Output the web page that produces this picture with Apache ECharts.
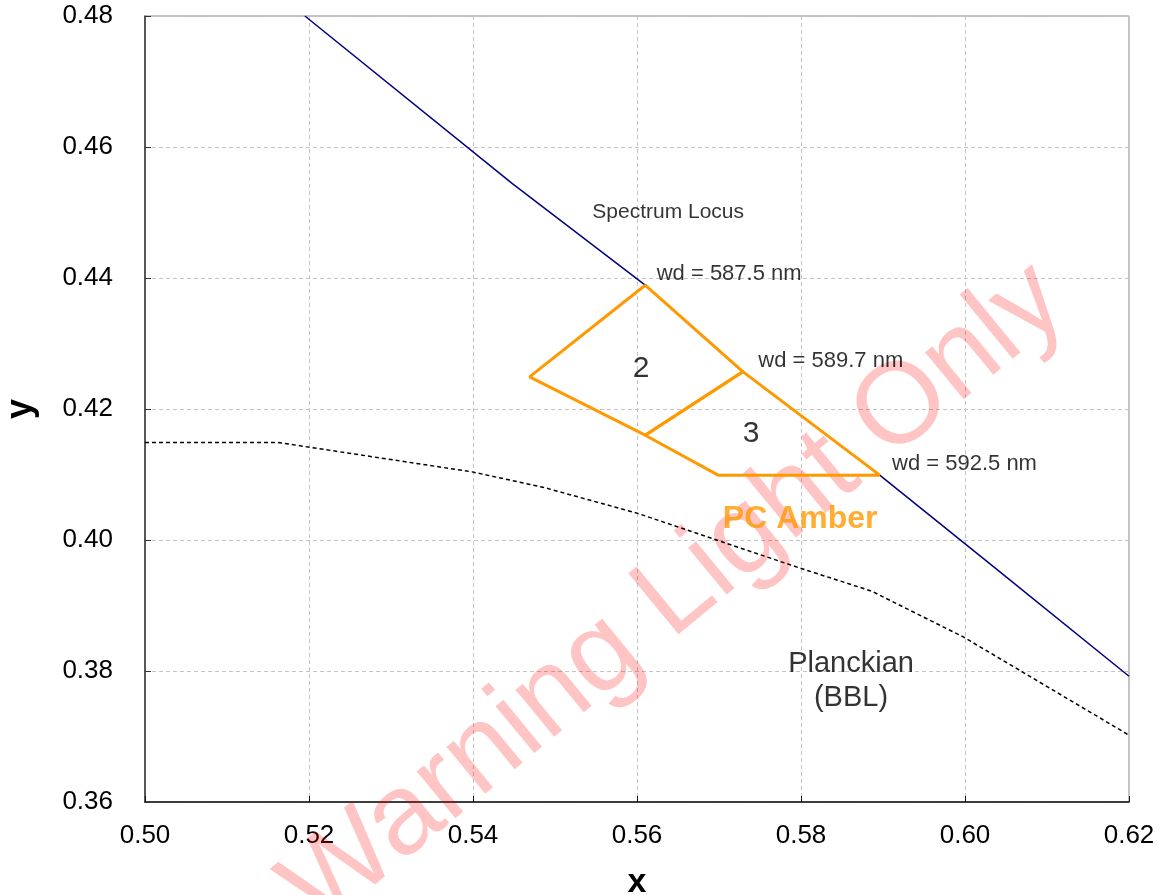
<!DOCTYPE html>
<html>
<head>
<meta charset="utf-8">
<script src="https://cdn.jsdelivr.net/npm/echarts@6/dist/echarts.min.js"></script>
<style>
html,body{margin:0;padding:0;background:#fff;overflow:hidden;}
#chart{width:1163px;height:895px;}
</style>
</head>
<body>
<div id="chart"></div>
<script>
// ---- data ----
const xTicks = [0.50, 0.52, 0.54, 0.56, 0.58, 0.60, 0.62];
const yTicks = [0.36, 0.38, 0.40, 0.42, 0.44, 0.46, 0.48];

const spectrumX = [0.5195, 0.5448, 0.5610, 0.5729, 0.5896, 0.6029, 0.6200];
const spectrumY = [0.4800, 0.4544, 0.4389, 0.4257, 0.4099, 0.3965, 0.3792];

const planckX = [0.500, 0.5162, 0.5399, 0.5487, 0.5600, 0.5690, 0.5799, 0.5886, 0.5998, 0.6200];
const planckY = [0.4149, 0.4149, 0.4104, 0.4080, 0.4041, 0.4003, 0.3957, 0.3922, 0.3852, 0.3702];

const region2X = [0.5610, 0.5469, 0.5610, 0.5729, 0.5610];
const region2Y = [0.4389, 0.4249, 0.4160, 0.4257, 0.4389];

const region3X = [0.5610, 0.5729, 0.5896, 0.5699, 0.5610];
const region3Y = [0.4160, 0.4257, 0.4099, 0.4099, 0.4160];

const smallTexts = ['Spectrum Locus'];
const smallX = [0.5638];
const smallY = [0.4501];

const wdTexts = ['wd = 587.5 nm', 'wd = 589.7 nm', 'wd = 592.5 nm'];
const wdX = [0.5624, 0.5748, 0.5911];
const wdY = [0.4406, 0.4273, 0.4116];

const binTexts = ['2', '3'];
const binX = [0.5605, 0.5739];
const binY = [0.4261, 0.4162];

const amberText = ['PC Amber'];
const amberX = [0.5799];
const amberY = [0.4032];

const bblText = ['Planckian\n(BBL)'];
const bblX = [0.5861];
const bblY = [0.3785];

const watermarkText = 'Warning Light Only';

// ---- helpers ----
const zip = (xs, ys) => xs.map((x, i) => [x, ys[i]]);
const zipNamed = (names, xs, ys) => names.map((n, i) => ({ name: n, value: [xs[i], ys[i]] }));

const FONT = "'Liberation Sans', Arial, sans-serif";
const ORANGE = '#FF9900';

function textSeries(data, opts) {
  return {
    type: 'scatter',
    data: data,
    symbolSize: 0,
    silent: true,
    z: 5,
    label: Object.assign({
      show: true,
      position: [0, 0],
      formatter: p => p.name,
      fontFamily: FONT,
      color: '#000',
      verticalAlign: 'middle'
    }, opts)
  };
}

const chart = echarts.init(document.getElementById('chart'), null, { renderer: 'canvas' });

const option = {
  animation: false,
  backgroundColor: '#fff',
  grid: {
    left: 145, right: 34, top: 16, bottom: 93,
    outerBoundsMode: 'none', containLabel: false,
    show: true, borderColor: '#888', borderWidth: 1
  },
  xAxis: {
    type: 'value',
    min: xTicks[0], max: xTicks[xTicks.length - 1], interval: 0.02,
    name: 'x', nameLocation: 'middle', nameGap: 64,
    nameTextStyle: { fontFamily: FONT, fontWeight: 'bold', fontSize: 34, color: '#000' },
    axisLine: { show: true, lineStyle: { color: '#111', width: 1.5 } },
    axisTick: { show: true, inside: true, length: 6, lineStyle: { color: '#111' } },
    axisLabel: { fontFamily: FONT, fontSize: 26, color: '#000', margin: 21, formatter: v => v.toFixed(2) },
    splitLine: { show: true, lineStyle: { color: '#c4c4c4', type: [4, 3], width: 1 } }
  },
  yAxis: {
    type: 'value',
    min: yTicks[0], max: yTicks[yTicks.length - 1], interval: 0.02,
    name: 'y', nameLocation: 'middle', nameGap: 106, nameRotate: 90,
    nameTextStyle: { fontFamily: FONT, fontWeight: 'bold', fontSize: 36, color: '#000' },
    axisLine: { show: true, lineStyle: { color: '#333', width: 1.5 } },
    axisTick: { show: true, inside: true, length: 6, lineStyle: { color: '#333' } },
    axisLabel: { fontFamily: FONT, fontSize: 26, color: '#000', margin: 32, formatter: v => v.toFixed(2) },
    splitLine: { show: true, lineStyle: { color: '#c4c4c4', type: [4, 3], width: 1 } }
  },
  graphic: [{
    type: 'text',
    x: 675, y: 596,
    rotation: 39.5 * Math.PI / 180,
    z: 1,
    silent: true,
    style: {
      text: watermarkText,
      x: 0, y: 0,
      align: 'center', verticalAlign: 'middle',
      fontFamily: FONT, fontSize: 115,
      fill: 'rgba(255,0,0,0.23)'
    }
  }],
  series: [
    {
      type: 'line', data: zip(planckX, planckY), symbol: 'none', z: 3,
      lineStyle: { color: '#000', width: 1.5, type: [4, 3] }
    },
    {
      type: 'line', data: zip(spectrumX, spectrumY), symbol: 'none', z: 3,
      lineStyle: { color: '#000080', width: 1.5 }
    },
    {
      type: 'line', data: zip(region2X, region2Y), symbol: 'none', z: 4,
      lineStyle: { color: ORANGE, width: 3 }
    },
    {
      type: 'line', data: zip(region3X, region3Y), symbol: 'none', z: 4,
      lineStyle: { color: ORANGE, width: 3 }
    },
    textSeries(zipNamed(smallTexts, smallX, smallY), { fontSize: 21, align: 'center' }),
    textSeries(zipNamed(wdTexts, wdX, wdY), { fontSize: 22, align: 'left' }),
    textSeries(zipNamed(binTexts, binX, binY), { fontSize: 30, align: 'center' }),
    textSeries(zipNamed(amberText, amberX, amberY), { fontSize: 32, fontWeight: 'bold', color: ORANGE, align: 'center' }),
    textSeries(zipNamed(bblText, bblX, bblY), { fontSize: 29, align: 'center', lineHeight: 34 })
  ]
};

chart.setOption(option);
</script>
</body>
</html>
